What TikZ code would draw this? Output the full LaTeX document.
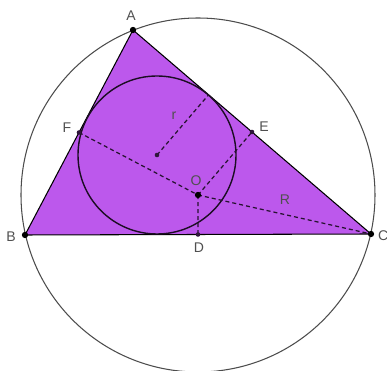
\documentclass[tikz,border=0pt]{standalone}
\usepackage{fontspec}
\setmainfont{Liberation Sans}
\usetikzlibrary{calc}

\definecolor{fillviolet}{RGB}{188,88,236}
\definecolor{labelgray}{RGB}{80,80,80}
\tikzset{
  pt/.style={circle, fill=black, inner sep=0pt, minimum size=3.6pt},
  smallpt/.style={circle, fill=black!75!fillviolet, inner sep=0pt, minimum size=2.6pt},
  lbl/.style={text=labelgray, font=\fontsize{8}{9}\selectfont, inner sep=1pt},
  hline/.style={dash pattern=on 2.3pt off 1.7pt, line width=0.7pt, draw=black!80!fillviolet}
}

\begin{document}
\begin{tikzpicture}[x=0.02cm, y=-0.02cm]
  \useasboundingbox (0,0) rectangle (387,371);

  \coordinate (A) at (133,30);
  \coordinate (B) at (25,235);
  \coordinate (C) at (371,234);
  \coordinate (O) at (198,195);
  \coordinate (I) at (157,155);
  \coordinate (D) at ($(B)!0.5!(C)$);
  \coordinate (E) at ($(A)!0.5!(C)$);
  \coordinate (F) at ($(A)!0.5!(B)$);
  \coordinate (T) at ($(A)!(I)!(C)$);

  % triangle, circumcircle, incircle
  \fill[fillviolet] (A) -- (B) -- (C) -- cycle;
  \draw[black!70, line width=0.6pt] (O) circle[radius=177];
  \draw[line width=0.6pt] (A) -- (B) -- (C) -- cycle;
  \draw[line width=0.8pt, draw=black!85!fillviolet] (I) circle[radius=79];

  % dashed segments
  \draw[hline] (F) -- (O);
  \draw[hline] (O) -- (C);
  \draw[hline] (O) -- (E);
  \draw[hline] (O) -- (D);
  \draw[hline] (I) -- (T);

  % points
  \node[pt] (pA) at (A) {};
  \node[pt] (pB) at (B) {};
  \node[pt] (pC) at (C) {};
  \node[pt] (pO) at (O) {};
  \node[smallpt] (pD) at (D) {};
  \node[smallpt] (pE) at (E) {};
  \node[smallpt] (pF) at (F) {};
  \node[smallpt] (pI) at (I) {};

  % labels
  \node[lbl] (labA) at (131,16) {A};
  \node[lbl] (labB) at (11,237) {B};
  \node[lbl, anchor=west] (labC) at (376,236) {C};
  \node[lbl] (labD) at (199,248) {D};
  \node[lbl] (labE) at (264,127) {E};
  \node[lbl] (labF) at (67,128) {F};
  \node[lbl] (labO) at (196,181) {O};
  \node[lbl] (labR) at (285,200) {R};
  \node[lbl] (labr) at (174,116) {r};
\end{tikzpicture}
\end{document}
